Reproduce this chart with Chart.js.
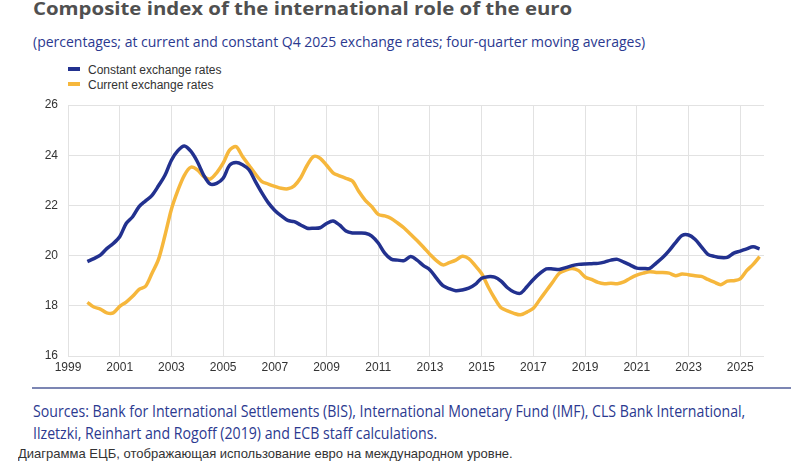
<!DOCTYPE html>
<html>
<head>
<meta charset="utf-8">
<script src="https://cdn.jsdelivr.net/npm/chart.js@4/dist/chart.umd.min.js"></script>
<style>
  html, body { margin: 0; padding: 0; background: #fff; }
  body { width: 791px; height: 474px; position: relative; overflow: hidden; font-family: "Open Sans", sans-serif; }
  .fit { display: inline-block; white-space: nowrap; transform-origin: 0 0; }
  .title { position: absolute; left: 33px; top: -4px; font-size: 18px; font-weight: 700; color: #505050; }
  .subtitle { position: absolute; left: 33px; top: 32px; font-size: 14px; color: #2b3990; }
  .legend { position: absolute; left: 68px; top: 63px; font-family: "Liberation Sans", Arial, sans-serif; font-size: 12px; color: #333; line-height: 15px; }
  .legend span { display: inline-block; width: 12px; height: 4px; margin-right: 8px; vertical-align: middle; position: relative; top: -2px; }
  .wrap { position: absolute; left: 0; top: 95px; width: 791px; height: 284px; }
  .rule { position: absolute; left: 32px; right: 0; top: 387px; height: 2px; background: #7c86b3; }
  .src { position: absolute; left: 33px; font-size: 15.5px; line-height: 22px; color: #2b3990; }
  .caption { position: absolute; left: 18px; top: 446px; font-family: "Liberation Sans", Arial, sans-serif; font-size: 13px; color: #333; }
</style>
</head>
<body>
<div class="title fit" data-w="539">Composite index of the international role of the euro</div>
<div class="subtitle fit" data-w="612">(percentages; at current and constant Q4 2025 exchange rates; four-quarter moving averages)</div>
<div class="legend">
  <div><span style="background:#22318f"></span>Constant exchange rates</div>
  <div><span style="background:#f6b73c"></span>Current exchange rates</div>
</div>
<div class="wrap"><canvas id="grafico"></canvas></div>
<div class="rule"></div>
<div class="src fit" id="src1" data-w="712" style="top:400px">Sources: Bank for International Settlements (BIS), International Monetary Fund (IMF), CLS Bank International,</div>
<div class="src fit" id="src2" style="top:422px">Ilzetzki, Reinhart and Rogoff (2019) and ECB staff calculations.</div>
<div class="caption fit" data-w="495">Диаграмма ЕЦБ, отображающая использование евро на международном уровне.</div>
<script>
// quarterly observations, 1999 Q4 to 2025 Q4
const firstQuarter = 1999.75;

const constantRates = [
  19.76, 19.88, 20.02, 20.28, 20.48, 20.75, 21.28, 21.55, 21.95, 22.18,
  22.40, 22.78, 23.20, 23.80, 24.18, 24.37, 24.16, 23.75, 23.20, 22.85,
  22.88, 23.08, 23.60, 23.71, 23.62, 23.42, 22.95, 22.50, 22.10, 21.80,
  21.58, 21.40, 21.35, 21.22, 21.09, 21.09, 21.11, 21.28, 21.38, 21.22,
  20.98, 20.90, 20.90, 20.89, 20.78, 20.50, 20.10, 19.86, 19.82, 19.80,
  19.96, 19.82, 19.60, 19.43, 19.10, 18.80, 18.68, 18.60, 18.63, 18.70,
  18.85, 19.10, 19.16, 19.14, 18.98, 18.72, 18.55, 18.50, 18.76, 19.05,
  19.29, 19.47, 19.47, 19.45, 19.52, 19.60, 19.65, 19.67, 19.68, 19.69,
  19.74, 19.82, 19.85, 19.74, 19.62, 19.50, 19.49, 19.49, 19.70, 19.92,
  20.20, 20.52, 20.80, 20.82, 20.65, 20.35, 20.05, 19.97, 19.92, 19.93,
  20.10, 20.18, 20.27, 20.35, 20.27
];

const currentRates = [
  18.14, 17.95, 17.87, 17.72, 17.72, 17.98, 18.15, 18.38, 18.65, 18.78,
  19.30, 19.85, 20.80, 21.85, 22.60, 23.20, 23.52, 23.42, 23.15, 23.05,
  23.30, 23.68, 24.20, 24.34, 23.95, 23.60, 23.25, 22.95, 22.85, 22.76,
  22.68, 22.66, 22.78, 23.10, 23.60, 23.95, 23.88, 23.60, 23.30, 23.18,
  23.08, 22.97, 22.55, 22.20, 21.95, 21.64, 21.58, 21.48, 21.30, 21.10,
  20.85, 20.60, 20.33, 20.05, 19.80, 19.63, 19.72, 19.82, 19.97, 19.88,
  19.60, 19.28, 18.76, 18.30, 17.92, 17.80, 17.70, 17.64, 17.75, 17.90,
  18.25, 18.60, 18.95, 19.30, 19.42, 19.49, 19.40, 19.15, 19.05, 18.93,
  18.88, 18.90, 18.88, 18.95, 19.10, 19.22, 19.30, 19.36, 19.33, 19.33,
  19.30, 19.20, 19.27, 19.24, 19.20, 19.17, 19.05, 18.94, 18.84, 18.98,
  19.00, 19.07, 19.40, 19.65, 19.96
];

const yearTicks = [1999, 2001, 2003, 2005, 2007, 2009, 2011, 2013, 2015, 2017, 2019, 2021, 2023, 2025];
const valueTicks = [16, 18, 20, 22, 24, 26];

const quarters = constantRates.map((_, i) => firstQuarter + i * 0.25);
const toPoints = arr => arr.map((v, i) => ({ x: quarters[i], y: v }));

// squeeze/stretch text blocks to the widths seen in the original
document.querySelectorAll('.fit[data-w]').forEach(el => {
  el.style.transform = 'scaleX(' + (el.dataset.w / el.offsetWidth) + ')';
});
document.getElementById('src2').style.transform = document.getElementById('src1').style.transform;

const fuente = { family: "'Liberation Sans', Arial, sans-serif", size: 12 };

new Chart(document.getElementById('grafico').getContext('2d'), {
  type: 'line',
  data: {
    datasets: [{
      label: 'Constant exchange rates',
      data: toPoints(constantRates),
      borderColor: '#22318f',
      borderWidth: 3.5,
      pointRadius: 0,
      tension: 0.3
    }, {
      label: 'Current exchange rates',
      data: toPoints(currentRates),
      borderColor: '#f6b73c',
      borderWidth: 3.5,
      pointRadius: 0,
      tension: 0.3
    }]
  },
  options: {
    responsive: true,
    maintainAspectRatio: false,
    animation: false,
    layout: { padding: { top: 10, right: 27, left: 0, bottom: 0 } },
    plugins: {
      legend: { display: false },
      tooltip: { enabled: false }
    },
    scales: {
      x: {
        type: 'linear',
        min: 1999,
        max: 2025.92,
        afterBuildTicks: s => { s.ticks = yearTicks.map(v => ({ value: v })); },
        afterFit: s => { s.height = 23; s.paddingLeft = 0; s.paddingRight = 0; },
        ticks: { font: fuente, color: '#333', padding: 4, maxRotation: 0, callback: v => String(v) },
        grid: { color: '#e2e2e2', drawTicks: false },
        border: { display: false }
      },
      y: {
        min: 16,
        max: 26,
        afterBuildTicks: s => { s.ticks = valueTicks.map(v => ({ value: v })); },
        afterFit: s => { s.width = 68; s.paddingTop = 0; s.paddingBottom = 0; },
        ticks: { font: fuente, color: '#333', padding: 10 },
        grid: { color: '#e2e2e2', drawTicks: false },
        border: { display: false }
      }
    }
  }
});
</script>
</body>
</html>
